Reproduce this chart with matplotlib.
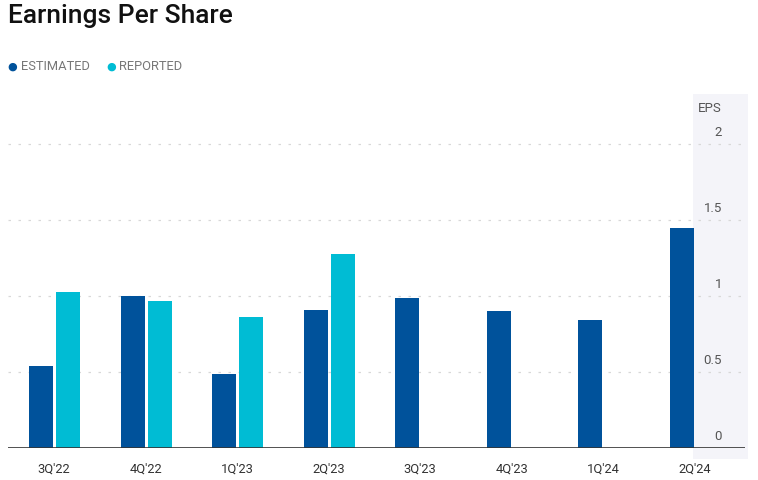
import matplotlib.pyplot as plt
from matplotlib.patches import Rectangle

# data
quarters = ["3Q'22", "4Q'22", "1Q'23", "2Q'23", "3Q'23", "4Q'23", "1Q'24", "2Q'24"]
estimated = [0.54, 1.00, 0.49, 0.91, 0.99, 0.90, 0.84, 1.45]
reported = [1.03, 0.97, 0.86, 1.28, None, None, None, None]
y_ticks = [0, 0.5, 1, 1.5, 2]
y_tick_labels = ['0', '0.5', '1', '1.5', '2']

col_est = '#00529b'
col_rep = '#00bcd4'

plt.rcParams['font.family'] = ['Roboto', 'DejaVu Sans']

fig = plt.figure(figsize=(7.58, 4.81), dpi=100)
ax = fig.add_axes([8 / 758, 32 / 481, 737 / 758, 354 / 481])

x = list(range(len(quarters)))
w = 0.262
gap = 0.022

# shaded y-axis panel on the right
ax.add_patch(Rectangle((6.98, -0.07), 0.6, 2.4, color='#f4f4f9', zorder=0,
                       clip_on=False, lw=0))

# gridlines
for t in y_ticks[1:]:
    ax.axhline(t, color='#d8d8d8', lw=0.9, linestyle=(0, (2, 6)), zorder=1)

# estimated to the left of the quarter centre, reported to the right
ax.bar([i - w - 0.01 for i in x], estimated, width=w, align='edge', color=col_est, zorder=2)
xr = [i + gap for i, v in zip(x, reported) if v is not None]
vr = [v for v in reported if v is not None]
ax.bar(xr, vr, width=w, align='edge', color=col_rep, zorder=2)

ax.axhline(0, color='#333333', lw=1.2, zorder=3)

ax.set_xlim(-0.503, 7.55)
ax.set_ylim(0, 2.33)

for s in ax.spines.values():
    s.set_visible(False)
ax.set_xticks(x)
ax.set_xticklabels(quarters, fontsize=9.3, color='#333333')
ax.tick_params(axis='x', length=0, pad=10)
ax.set_yticks([])

# y tick labels inside the panel
for t, lab in zip(y_ticks, y_tick_labels):
    ax.text(7.30, t + 0.04, lab, ha='right', va='bottom', fontsize=9.5,
            color='#555555')
ax.text(7.30, 2.2, 'EPS', ha='right', va='bottom', fontsize=9.5,
        color='#555555')

# title and legend
fig.text(8 / 758, 1 - 16 / 481, 'Earnings Per Share', fontsize=19,
         fontweight='medium', color='#111111', va='center', ha='left')
fig.text(12 / 758, 1 - 67 / 481, '\u25CF', fontsize=8, color=col_est,
         va='center', ha='center')
fig.text(21 / 758, 1 - 67 / 481, 'ESTIMATED', fontsize=9.3, color='#777777',
         va='center', ha='left')
fig.text(111 / 758, 1 - 67 / 481, '\u25CF', fontsize=8, color=col_rep,
         va='center', ha='center')
fig.text(119 / 758, 1 - 67 / 481, 'REPORTED', fontsize=9.3, color='#777777',
         va='center', ha='left')

fig.savefig('out.png', dpi=100)
